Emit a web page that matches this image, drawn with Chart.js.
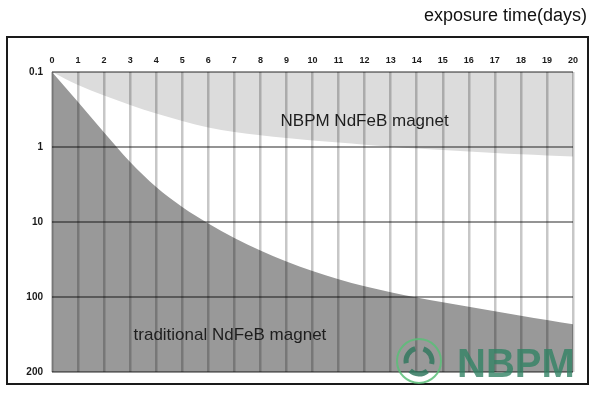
<!DOCTYPE html>
<html>
<head>
<meta charset="utf-8">
<script src="https://cdn.jsdelivr.net/npm/chart.js@4.4.1/dist/chart.umd.min.js"></script>
<style>
  html, body { margin: 0; padding: 0; background: #fff; }
  #wrap { width: 600px; height: 398px; }
</style>
</head>
<body>
<div id="wrap"><canvas id="chart" width="600" height="398"></canvas></div>
<script>
// exposure time in days
const days = [0, 1, 2, 3, 4, 5, 6, 7, 8, 9, 10, 11, 12, 13, 14, 15, 16, 17, 18, 19, 20];

// y axis ticks (evenly spaced on the chart)
const yTickValues = [0.1, 1, 10, 100, 200];
const yTickLabels = ['0.1', '1', '10', '100', '200'];

// weight loss
const nbpmLoss = [0.1, 0.149, 0.206, 0.275, 0.358, 0.45, 0.55, 0.631, 0.698, 0.759, 0.817,
                  0.874, 0.932, 0.991, 1.047, 1.1, 1.151, 1.202, 1.251, 1.298, 1.343];
const traditionalLoss = [0.1, 0.251, 0.641, 1.585, 3.415, 6.31, 10.47, 16.34, 23.99, 33.63, 45.01,
                         57.88, 71.78, 86.3, 100.4, 104.9, 109.5, 114.1, 118.9, 123.7, 128.7];

// value -> position on the evenly spaced tick axis (log between ticks)
function toPos(v) {
    for (let i = 0; i < yTickValues.length - 1; i++) {
        const a = yTickValues[i], b = yTickValues[i + 1];
        if (v <= b || i === yTickValues.length - 2) {
            return i + Math.log(v / a) / Math.log(b / a);
        }
    }
}

const toPoints = arr => arr.map((v, i) => ({ x: days[i], y: toPos(v) }));

const decor = {
    id: 'decor',
    afterDraw(chart) {
        const ctx = chart.ctx;
        const xs = chart.scales.x, ys = chart.scales.y;
        ctx.save();

        // outer frame
        ctx.strokeStyle = '#1a1a1a';
        ctx.lineWidth = 2;
        ctx.strokeRect(7, 37, 581, 347);

        // title
        ctx.fillStyle = '#111';
        ctx.font = '18px Arial, "Liberation Sans", sans-serif';
        ctx.textAlign = 'right';
        ctx.textBaseline = 'middle';
        ctx.fillText('exposure time(days)', 587, 16);

        // area labels
        ctx.font = '17px Arial, "Liberation Sans", sans-serif';
        ctx.fillStyle = '#1e1e1e';
        ctx.textAlign = 'center';
        ctx.fillText('NBPM NdFeB magnet', xs.getPixelForValue(12), ys.getPixelForValue(toPos(0.46)));
        ctx.fillText('traditional NdFeB magnet', xs.getPixelForValue(6.83), ys.getPixelForValue(toPos(143)));

        // watermark logo
        const cx = 419, cy = 361;
        ctx.strokeStyle = 'rgba(90,190,120,0.85)';
        ctx.lineWidth = 2;
        ctx.beginPath();
        ctx.arc(cx, cy, 22, 0, Math.PI * 2);
        ctx.stroke();
        ctx.strokeStyle = 'rgba(50,120,95,0.85)';
        ctx.lineWidth = 5;
        for (let k = 0; k < 3; k++) {
            const a0 = -Math.PI / 2 + k * 2 * Math.PI / 3 + 0.35;
            ctx.beginPath();
            ctx.arc(cx, cy, 13, a0, a0 + 1.45);
            ctx.stroke();
        }
        ctx.fillStyle = 'rgba(50,130,100,0.8)';
        ctx.font = 'bold 40px Arial, "Liberation Sans", sans-serif';
        ctx.textAlign = 'left';
        ctx.textBaseline = 'alphabetic';
        ctx.fillText('NBPM', 457, 377);

        ctx.restore();
    }
};

new Chart(document.getElementById('chart'), {
    type: 'line',
    data: {
        datasets: [
            {
                label: 'NBPM NdFeB magnet',
                data: toPoints(nbpmLoss),
                borderWidth: 0,
                pointRadius: 0,
                backgroundColor: '#dcdcdc',
                fill: 'end',
                cubicInterpolationMode: 'monotone'
            },
            {
                label: 'traditional NdFeB magnet',
                data: toPoints(traditionalLoss),
                borderWidth: 0,
                pointRadius: 0,
                backgroundColor: '#999999',
                fill: 'start',
                cubicInterpolationMode: 'monotone'
            }
        ]
    },
    options: {
        responsive: false,
        devicePixelRatio: 1,
        animation: false,
        layout: { padding: { left: 0, top: 0, right: 27, bottom: 26 } },
        plugins: {
            legend: { display: false },
            tooltip: { enabled: false }
        },
        scales: {
            x: {
                type: 'linear',
                position: 'top',
                min: 0,
                max: 20,
                afterFit: s => { s.height = 72; },
                border: { display: false },
                grid: { color: 'rgba(0,0,0,0.22)', lineWidth: 2.5, drawTicks: false, z: 1 },
                ticks: {
                    stepSize: 1,
                    padding: 6,
                    color: '#1a1a1a',
                    font: { family: 'Arial, "Liberation Sans", sans-serif', size: 9, weight: 'bold' }
                }
            },
            y: {
                type: 'linear',
                min: 0,
                max: 4,
                reverse: true,
                afterFit: s => { s.width = 52; },
                border: { display: false },
                grid: { color: 'rgba(0,0,0,0.42)', lineWidth: 2, drawTicks: false, z: 1 },
                ticks: {
                    stepSize: 1,
                    padding: 9,
                    color: '#1a1a1a',
                    font: { family: 'Arial, "Liberation Sans", sans-serif', size: 10, weight: 'bold' },
                    callback: v => yTickLabels[v]
                }
            }
        }
    },
    plugins: [decor]
});
</script>
</body>
</html>
